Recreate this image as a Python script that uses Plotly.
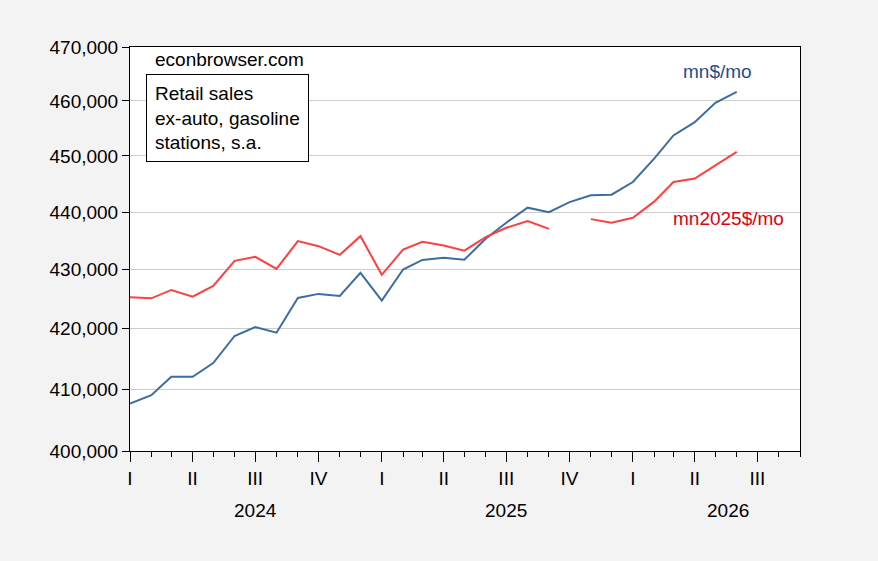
import plotly.graph_objects as go
import pandas as pd

# monthly observations, Jan 2024 .. Jun 2026
months = pd.date_range("2024-01-01", "2026-06-01", freq="MS")

# retail sales ex-auto, gasoline stations, s.a. (mn$/mo)
nominal = [
    407650, 409010, 412020, 412020, 414280, 418790, 420300, 419340,
    425200, 425890, 425550, 429480, 424750, 430050, 431700, 432060,
    431720, 435360, 438160, 440800, 440020, 441790, 442980, 443100,
    445340, 449530, 453690, 456110, 459640, 461670,
]

# same in mn2025$/mo (Oct 2025 missing)
real = [
    425310, 425140, 426560, 425430, 427250, 431550, 432240, 430170,
    434950, 434080, 432580, 435820, 429140, 433500, 434840, 434200,
    433310, 435640, 437280, 438440, 437080, None, 438790, 438160,
    439040, 441860, 445340, 445950, 448320, 450720,
]

quarter_ticks = pd.date_range("2024-01-01", "2026-07-01", freq="QS")
quarter_labels = ["I", "II", "III", "IV"] * 2 + ["I", "II", "III"]
year_labels = ["2024", "2025", "2026"]
year_pos = ["2024-07-01", "2025-07-01", "2026-05-20"]

y_ticks = [400000, 410000, 420000, 430000, 440000, 450000, 460000, 470000]

FONT = "Liberation Sans, Arial, sans-serif"
FS = 19

fig = go.Figure()
fig.add_trace(go.Scatter(x=months, y=nominal, mode="lines", name="mn$/mo",
                         line=dict(color="#3d6da0", width=2)))
fig.add_trace(go.Scatter(x=months, y=real, mode="lines", name="mn2025$/mo",
                         line=dict(color="#ff4040", width=2), connectgaps=False))

fig.update_layout(
    width=878, height=561,
    margin=dict(l=130, r=78, t=47, b=110),
    paper_bgcolor="#f3f3f3", plot_bgcolor="white",
    showlegend=False,
    font=dict(family=FONT, size=FS, color="black"),
)

fig.update_xaxes(
    type="date", range=["2024-01-01", "2026-09-01"],
    tickvals=quarter_ticks, ticktext=quarter_labels,
    ticks="outside", ticklen=10, tickcolor="black", tickwidth=1,
    minor=dict(ticks="outside", ticklen=5, dtick="M1", tick0="2024-01-01",
               tickcolor="black", showgrid=False),
    showgrid=False, showline=True, linecolor="black", linewidth=1, mirror=True,
    tickfont=dict(size=FS), zeroline=False,
)
fig.update_yaxes(
    type="log", range=[5.60206, 5.672098],
    tickvals=y_ticks, ticktext=[f"{v:,}" for v in y_ticks],
    ticks="outside", ticklen=7, tickcolor="black",
    showgrid=True, gridcolor="#cccccc", gridwidth=1,
    showline=True, linecolor="black", linewidth=1, mirror=True,
    tickfont=dict(size=FS), zeroline=False,
)

for lab, pos in zip(year_labels, year_pos):
    fig.add_annotation(x=pos, y=-0.147, xref="x", yref="paper", text=lab,
                       showarrow=False, font=dict(size=FS), yanchor="middle")

fig.add_annotation(x=0.034, y=0.97, xref="paper", yref="paper", text="econbrowser.com",
                   showarrow=False, xanchor="left", yanchor="middle", font=dict(size=FS))
fig.add_annotation(x=0.0245, y=0.825, xref="paper", yref="paper",
                   text="Retail sales<br>ex-auto, gasoline<br>stations, s.a.",
                   showarrow=False, xanchor="left", yanchor="middle", align="left",
                   bordercolor="black", borderwidth=1, borderpad=8, bgcolor="white",
                   font=dict(size=FS))
fig.add_annotation(x=0.877, y=0.94, xref="paper", yref="paper", text="mn$/mo",
                   showarrow=False, xanchor="center", yanchor="middle",
                   font=dict(size=FS, color="#1f4e8c"))
fig.add_annotation(x=0.893, y=0.576, xref="paper", yref="paper", text="mn2025$/mo",
                   showarrow=False, xanchor="center", yanchor="middle",
                   font=dict(size=FS, color="#e00010"))

fig.write_html("out.html", config={"displayModeBar": False},
               post_script="document.body.style.margin='0';")
